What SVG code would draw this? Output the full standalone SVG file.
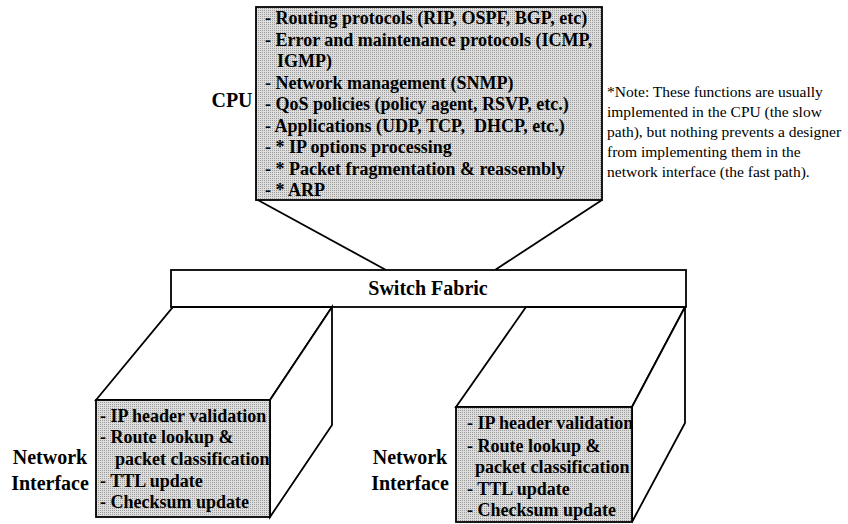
<svg xmlns="http://www.w3.org/2000/svg" width="848" height="524" viewBox="0 0 848 524">
  <defs>
    <!-- halftone-like grey fill for the function lists -->
    <pattern id="dots" width="2" height="2" patternUnits="userSpaceOnUse">
      <rect width="2" height="2" fill="#dedede"/>
      <rect width="1" height="1" fill="#9a9a9a"/>
    </pattern>
  </defs>
  <style>
    .edge { fill: none; stroke: #000; stroke-width: 1.8; stroke-linejoin: miter; }
    .face { fill: #fff; stroke: #000; stroke-width: 1.8; }
    .shade { fill: url(#dots); stroke: #000; stroke-width: 1.8; }
    .item { font-family: "Liberation Serif", "Times New Roman", serif; font-weight: bold; font-size: 18px; fill: #000; }
    .label { font-family: "Liberation Serif", "Times New Roman", serif; font-weight: bold; font-size: 20px; fill: #000; text-anchor: middle; }
    .note { font-family: "Liberation Serif", "Times New Roman", serif; font-size: 15.5px; fill: #000; }
  </style>

  <rect width="848" height="524" fill="#fff"/>

  <!-- links from the CPU down to the switch fabric -->
  <g id="connectors">
    <line class="edge" x1="256" y1="199" x2="386" y2="270"/>
    <line class="edge" x1="602" y1="200" x2="495" y2="270"/>
  </g>

  <!-- CPU (slow path) -->
  <g id="cpu">
    <rect class="shade" x="256" y="7" width="346" height="193"/>
    <text class="label" x="232" y="107">CPU</text>
    <text class="item" x="265" y="24">- Routing protocols (RIP, OSPF, BGP, etc)</text>
    <text class="item" x="265" y="45.5">- Error and maintenance protocols (ICMP,</text>
    <text class="item" x="277" y="67">IGMP)</text>
    <text class="item" x="265" y="88.5">- Network management (SNMP)</text>
    <text class="item" x="265" y="110">- QoS policies (policy agent, RSVP, etc.)</text>
    <text class="item" x="265" y="131.5" xml:space="preserve">- Applications (UDP, TCP,  DHCP, etc.)</text>
    <text class="item" x="265" y="153">- * IP options processing</text>
    <text class="item" x="265" y="174.5">- * Packet fragmentation &amp; reassembly</text>
    <text class="item" x="265" y="196">- * ARP</text>
  </g>

  <!-- footnote beside the CPU -->
  <g id="note">
    <text class="note" x="607" y="97">*Note: These functions are usually</text>
    <text class="note" x="607" y="117">implemented in the CPU (the slow</text>
    <text class="note" x="607" y="137">path), but nothing prevents a designer</text>
    <text class="note" x="607" y="157">from implementing them in the</text>
    <text class="note" x="607" y="177">network interface (the fast path).</text>
  </g>

  <!-- switch fabric -->
  <g id="switch-fabric">
    <rect class="face" x="171" y="270" width="515" height="37"/>
    <text class="label" x="428" y="295">Switch Fabric</text>
  </g>

  <!-- network interface, left -->
  <g id="ni-left">
    <polygon class="face" points="96,400 173,307 332,307 270,400"/>
    <polygon class="face" points="270,400 332,307 332,425 270,517"/>
    <rect class="shade" x="96" y="400" width="174" height="117"/>
    <text class="label" x="50" y="464">Network</text>
    <text class="label" x="50" y="490">Interface</text>
    <text class="item" x="100" y="422">- IP header validation</text>
    <text class="item" x="100" y="443">- Route lookup &amp;</text>
    <text class="item" x="115" y="465">packet classification</text>
    <text class="item" x="100" y="487">- TTL update</text>
    <text class="item" x="100" y="508">- Checksum update</text>
  </g>

  <!-- network interface, right -->
  <g id="ni-right">
    <polygon class="face" points="456,407 526,307 685,307 632,407"/>
    <polygon class="face" points="632,407 685,307 685,423 632,522"/>
    <rect class="shade" x="456" y="407" width="176" height="115"/>
    <text class="label" x="410" y="464">Network</text>
    <text class="label" x="410" y="490">Interface</text>
    <text class="item" x="467" y="429">- IP header validation</text>
    <text class="item" x="467" y="452">- Route lookup &amp;</text>
    <text class="item" x="475" y="473">packet classification</text>
    <text class="item" x="467" y="495">- TTL update</text>
    <text class="item" x="467" y="516">- Checksum update</text>
  </g>
</svg>
